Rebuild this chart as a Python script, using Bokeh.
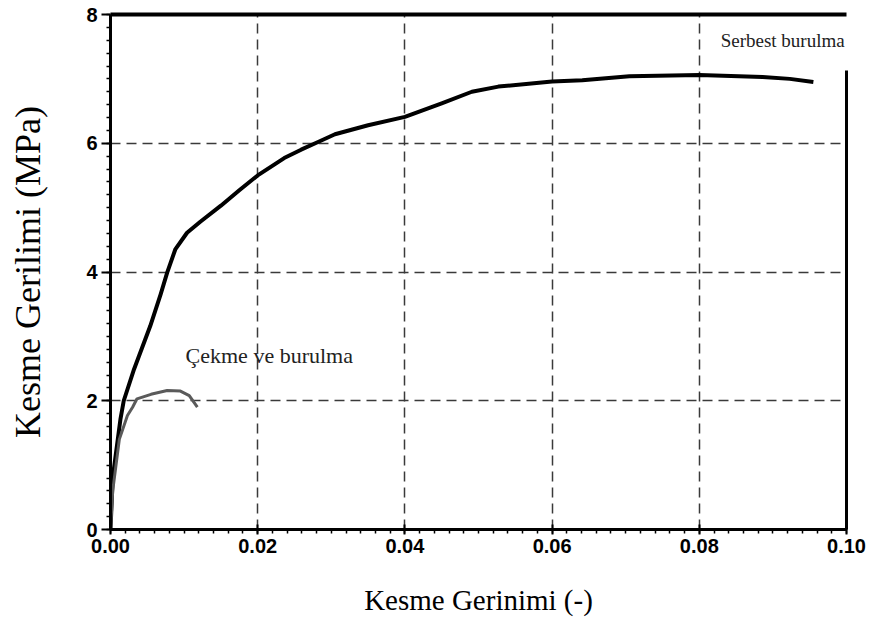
from bokeh.plotting import figure
from bokeh.models import LinearAxis, Range1d, Label, FixedTicker, CustomJSTickFormatter
from bokeh.embed import file_html
from bokeh.resources import INLINE

# Serbest burulma (free torsion)
serbest_x = [0.0, 0.0003, 0.0007, 0.00136, 0.0018, 0.0032, 0.0054, 0.0068, 0.0077, 0.0088,
             0.0104, 0.0122, 0.015, 0.0175, 0.020, 0.0236, 0.0259, 0.0282, 0.0305, 0.035,
             0.040, 0.045, 0.0491, 0.0527, 0.060, 0.0641, 0.0705, 0.080, 0.0886, 0.0923,
             0.0955]
serbest_y = [0.0, 0.8, 1.15, 1.72, 2.0, 2.49, 3.16, 3.65, 3.99, 4.35,
             4.61, 4.78, 5.03, 5.27, 5.5, 5.77, 5.9, 6.02, 6.14, 6.28,
             6.41, 6.62, 6.80, 6.88, 6.96, 6.98, 7.04, 7.06, 7.03, 7.0,
             6.95]

# Çekme ve burulma (tension + torsion)
cekme_x = [0.0, 0.0003, 0.0012, 0.0023, 0.003, 0.0036, 0.0055, 0.0077, 0.0095, 0.0107, 0.0118]
cekme_y = [0.0, 0.6, 1.4, 1.77, 1.9, 2.03, 2.1, 2.16, 2.15, 2.08, 1.9]

x_ticks = [0.0, 0.02, 0.04, 0.06, 0.08, 0.10]
y_ticks = [0, 2, 4, 6, 8]

p = figure(width=866, height=618, output_backend="svg", toolbar_location=None,
           x_range=Range1d(0, 0.1), y_range=Range1d(0, 8),
           min_border_left=110, min_border_top=14, min_border_right=20, min_border_bottom=87)
p.outline_line_color = None
p.background_fill_color = "white"

for ax in (p.xaxis[0], p.yaxis[0]):
    ax.axis_line_width = 3
    ax.axis_line_color = "black"
    ax.major_tick_line_width = 2
    ax.minor_tick_line_width = 1.5
    ax.major_tick_line_color = "black"
    ax.minor_tick_line_color = "black"
    ax.major_label_text_font = "Liberation Sans"
    ax.major_label_text_font_style = "bold"
    ax.major_label_text_font_size = "20px"
    ax.major_label_text_color = "black"
    ax.axis_label_text_font = "Liberation Serif"
    ax.axis_label_text_font_style = "normal"
    ax.axis_label_text_color = "black"

p.xaxis.ticker = FixedTicker(ticks=x_ticks, minor_ticks=[i * 0.002 for i in range(51)])
p.xaxis.formatter = CustomJSTickFormatter(code="return tick.toFixed(2);")
p.xaxis.major_tick_in = 5
p.xaxis.major_tick_out = 5
p.xaxis.minor_tick_in = 1
p.xaxis.minor_tick_out = 4
p.xaxis.major_label_standoff = 4
p.xaxis.axis_label = "Kesme Gerinimi (-)"
p.xaxis.axis_label_text_font_size = "29px"
p.xaxis.axis_label_standoff = 28

p.yaxis.ticker = FixedTicker(ticks=y_ticks, minor_ticks=[i * 0.2 for i in range(41)])
p.yaxis.major_tick_in = 0
p.yaxis.major_tick_out = 9
p.yaxis.minor_tick_in = 0
p.yaxis.minor_tick_out = 4
p.yaxis.major_label_standoff = 4
p.yaxis.axis_label = "Kesme Gerilimi (MPa)"
p.yaxis.axis_label_text_font_size = "36px"
p.yaxis.axis_label_standoff = 35

# frame: top border and partial right border
top = LinearAxis(major_tick_line_color=None, minor_tick_line_color=None,
                 major_label_text_font_size="0px", axis_line_width=4)
p.add_layout(top, "above")
right = LinearAxis(major_tick_line_color=None, minor_tick_line_color=None,
                   major_label_text_font_size="0px", axis_line_width=3,
                   bounds=(0, 7.13))
p.add_layout(right, "right")

p.xgrid.ticker = FixedTicker(ticks=x_ticks[1:-1])
p.ygrid.ticker = FixedTicker(ticks=y_ticks[1:-1])
for g in (p.xgrid[0], p.ygrid[0]):
    g.grid_line_color = "#3a3a3a"
    g.grid_line_width = 1.5
    g.grid_line_dash = "10 6"

p.line(serbest_x, serbest_y, line_color="black", line_width=4, line_join="round")
p.line(cekme_x, cekme_y, line_color="#5a5a5a", line_width=3, line_join="round")

p.add_layout(Label(x=0.0829, y=7.6, text="Serbest burulma", text_font="Liberation Serif",
                   text_font_size="19px", text_color="#222222", text_baseline="middle"))
p.add_layout(Label(x=0.0102, y=2.71, text="Çekme ve burulma", text_font="Liberation Serif",
                   text_font_size="22px", text_color="#222222", text_baseline="middle"))

open("out.html", "w").write(file_html(p, INLINE))
